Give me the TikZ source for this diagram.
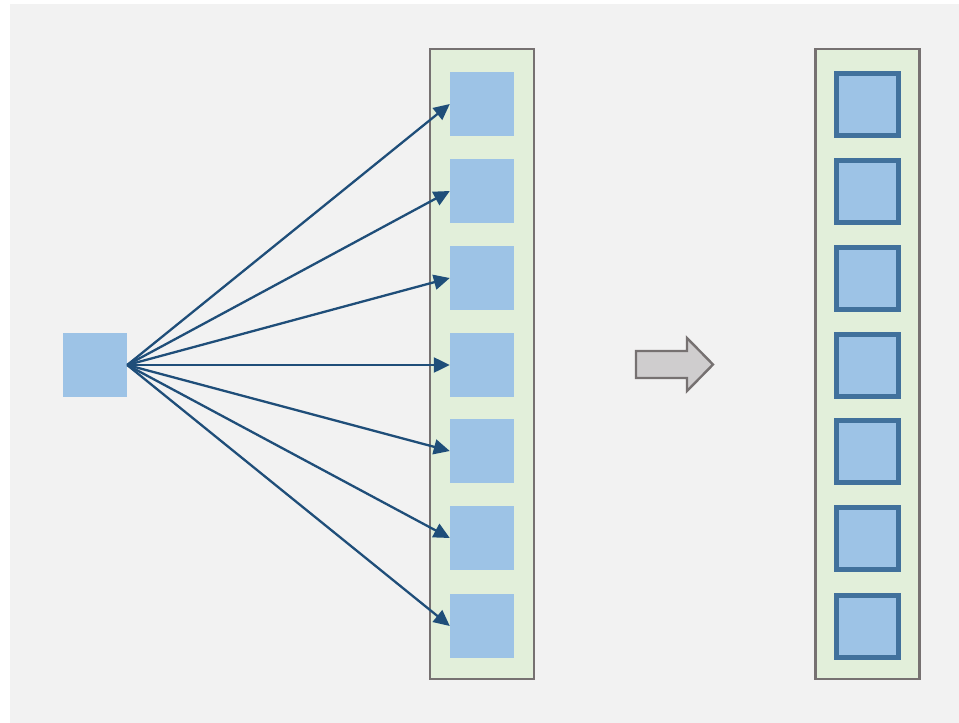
\documentclass[tikz,border=0pt]{standalone}
\usetikzlibrary{arrows.meta}
\definecolor{bgc}{HTML}{F2F2F2}
\definecolor{boxfill}{HTML}{E2EFDA}
\definecolor{boxline}{HTML}{767171}
\definecolor{sqfill}{HTML}{9DC3E6}
\definecolor{sqline}{HTML}{41719C}
\definecolor{arr}{HTML}{1F4E79}
\definecolor{fatfill}{HTML}{CFCDCE}
\begin{document}
\begin{tikzpicture}[x=1pt,y=-1pt,
  container/.style={draw=boxline,fill=boxfill,line width=2.4pt,minimum width=104pt,minimum height=630pt,inner sep=0pt,anchor=center},
  sq/.style={fill=sqfill,minimum size=64pt,inner sep=0pt,anchor=center},
  sqb/.style={fill=sqfill,draw=sqline,line width=5pt,minimum size=62pt,inner sep=0pt,anchor=center},
  link/.style={draw=arr,line width=2.3pt,-{Triangle[length=16pt,width=15pt]}},
  fat/.style={draw=boxline,fill=fatfill,line width=2.4pt,line join=miter}]
\useasboundingbox (0,0) rectangle (959,723);
\fill[white] (0,0) rectangle (959,723);
\fill[bgc] (10,4) rectangle (959,723);
\node[container] (L) at (482,364) {};
\node[container] (R) at (867.5,364) {};
\node[sq] (src) at (95,365) {};
\foreach \i/\y in {1/104,2/191,3/278,4/365,5/451,6/538,7/626}{
  \node[sq] (a\i) at (482,\y) {};
  \node[sqb] (b\i) at (867.5,\y) {};
  \draw[link] (src.east) -- (a\i.west);
}
\draw[fat] (636,351) -- (687,351) -- (687,338) -- (713,364.5) -- (687,391) -- (687,378) -- (636,378) -- cycle;
\end{tikzpicture}
\end{document}
